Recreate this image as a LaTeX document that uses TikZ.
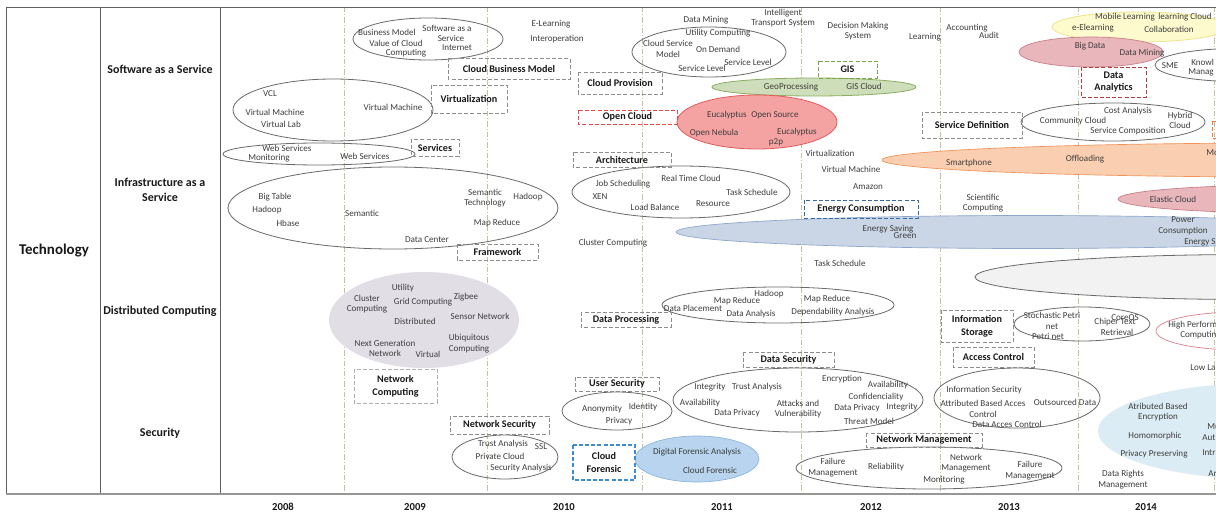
\documentclass[tikz,border=0pt]{standalone}
\usepackage{fontspec}
\setmainfont{Carlito}
\definecolor{txt}{RGB}{62,62,62}
\definecolor{hdtxt}{RGB}{25,25,25}
\definecolor{boxgray}{RGB}{140,140,140}
\definecolor{ovgray}{RGB}{105,105,105}
\definecolor{frame}{RGB}{95,95,95}
\definecolor{yrline}{RGB}{200,190,160}
\definecolor{redbx}{RGB}{232,72,72}
\definecolor{greenbx}{RGB}{120,165,70}
\definecolor{bluebx}{RGB}{55,105,165}
\definecolor{darkredbx}{RGB}{180,60,60}
\definecolor{forbx}{RGB}{60,140,210}
\definecolor{orangebx}{RGB}{237,125,49}
\definecolor{greenfill}{RGB}{206,222,186}
\definecolor{greenline}{RGB}{140,172,100}
\definecolor{redfill}{RGB}{244,162,162}
\definecolor{redline}{RGB}{228,90,90}
\definecolor{bandfill}{RGB}{202,214,230}
\definecolor{bandline}{RGB}{140,165,200}
\definecolor{orangefill}{RGB}{250,206,176}
\definecolor{orangeline}{RGB}{240,145,85}
\definecolor{pinkfill}{RGB}{232,182,187}
\definecolor{pinkline}{RGB}{200,125,135}
\definecolor{grayfill}{RGB}{242,242,242}
\definecolor{yellowfill}{RGB}{253,250,205}
\definecolor{yellowline}{RGB}{238,228,140}
\definecolor{lavfill}{RGB}{226,222,230}
\definecolor{forfill}{RGB}{184,212,238}
\definecolor{forline}{RGB}{140,180,220}
\definecolor{secfill}{RGB}{220,236,245}
\definecolor{hpline}{RGB}{222,140,150}
\begin{document}
\begin{tikzpicture}[x=0.75pt,y=-0.75pt,
  lbl/.style={font=\fontsize{6.8}{8}\selectfont, text=txt, inner sep=0pt, align=center},
  hd/.style={font=\bfseries\fontsize{7.6}{9.6}\selectfont, text=hdtxt, inner sep=0pt, align=center},
  rowlbl/.style={font=\bfseries\fontsize{9}{11}\selectfont, text=hdtxt, inner sep=0pt, align=center},
  yearlbl/.style={font=\bfseries\fontsize{8}{10}\selectfont, text=hdtxt, inner sep=0pt},
  tbox/.style={line width=0.7pt, dash pattern=on 3pt off 1.6pt},
  oval/.style={draw=ovgray, line width=0.6pt},
  yline/.style={draw=yrline, line width=0.6pt, dash pattern=on 4pt off 1.5pt on 0.8pt off 1.5pt}]
\useasboundingbox (0,0) rectangle (1216,517);
\clip (0,0) rectangle (1216,517);
\fill[white] (0,0) rectangle (1216,517);

% ---------- year separators ----------
\foreach \x in {344,487,642,801,940,1078,1214}
  \draw[yline] (\x,7) -- (\x,494);

% ---------- filled regions ----------
\filldraw[fill=bandfill, draw=bandline, line width=0.5pt] (1028,232) ellipse [x radius=352, y radius=16.5];
\filldraw[fill=orangefill, draw=orangeline, line width=0.5pt] (1290,160) ellipse [x radius=408, y radius=17];
\filldraw[fill=pinkfill, draw=pinkline, line width=0.5pt] (1290,199) ellipse [x radius=172, y radius=14];
\filldraw[fill=grayfill, draw=ovgray, line width=0.6pt] (1250,277) ellipse [x radius=275, y radius=22.5];
\filldraw[fill=yellowfill, draw=yellowline, line width=0.6pt] (1140,27) ellipse [x radius=88, y radius=15];
\filldraw[fill=pinkfill, draw=pinkline, line width=0.5pt] (1091,52) ellipse [x radius=72, y radius=15];
\filldraw[fill=greenfill, draw=greenline, line width=0.6pt] (814,87) ellipse [x radius=102, y radius=9];
\filldraw[fill=redfill, draw=redline, line width=0.6pt] (757,122) ellipse [x radius=80, y radius=27];
\fill[lavfill] (424,320) ellipse [x radius=95, y radius=48];
\filldraw[fill=forfill, draw=forline, line width=0.5pt] (697,459) ellipse [x radius=62, y radius=23];
\fill[secfill] (1262,431) ellipse [x radius=164, y radius=48];

% ---------- outlined groups ----------
\draw[oval] (428,39) ellipse [x radius=75, y radius=21];
\draw[oval] (333,110) ellipse [x radius=100, y radius=31];
\draw[oval] (319,154) ellipse [x radius=96, y radius=11];
\draw[oval] (393,208) ellipse [x radius=165, y radius=41];
\draw[oval] (709,52) ellipse [x radius=77, y radius=25];
\draw[oval] (681,192) ellipse [x radius=109, y radius=26];
\filldraw[fill=white, draw=ovgray, line width=0.6pt] (1237,65) ellipse [x radius=82, y radius=16.5];
\draw[oval] (1113,122) ellipse [x radius=92, y radius=19];
\draw[oval] (778,305) ellipse [x radius=116, y radius=18];
\draw[oval] (1082,324) ellipse [x radius=68, y radius=17];
\draw[draw=hpline, line width=0.6pt] (1240,331) ellipse [x radius=84, y radius=19];
\draw[oval] (617,411) ellipse [x radius=55, y radius=19];
\draw[oval] (505,457) ellipse [x radius=53, y radius=22];
\draw[oval] (798,400) ellipse [x radius=125, y radius=32];
\draw[oval] (929,468) ellipse [x radius=133, y radius=21];
\draw[oval] (1017,398) ellipse [x radius=83, y radius=30];

% ---------- frame ----------
\draw[frame, line width=0.7pt] (6,7) -- (1216,7);
\draw[frame, line width=0.7pt] (6,7) -- (6,494);
\draw[frame, line width=0.7pt] (100,7) -- (100,494);
\draw[frame, line width=0.7pt] (220,7) -- (220,494);
\draw[draw={rgb,255:red,150;green,150;blue,150}, line width=1.5pt] (6,494) -- (1216,494);

\node[rowlbl, font=\bfseries\fontsize{11.2}{13}\selectfont] (tech) at (54,251) {Technology};
\node[rowlbl] (saas) at (160,69) {Software as a Service};
\node[rowlbl] (iaas) at (160,190) {Infrastructure as a\\Service};
\node[rowlbl] (dc) at (160,311) {Distributed Computing};
\node[rowlbl] (sec) at (160,433) {Security};

\node[yearlbl] (y08) at (283,507) {2008};
\node[yearlbl] (y09) at (415,507) {2009};
\node[yearlbl] (y10) at (564,507) {2010};
\node[yearlbl] (y11) at (722,507) {2011};
\node[yearlbl] (y12) at (871,507) {2012};
\node[yearlbl] (y13) at (1009,507) {2013};
\node[yearlbl] (y14) at (1146,507) {2014};

% ---------- topic boxes ----------
\draw[tbox, draw=boxgray] (448,58) rectangle (570,79);
\node[hd] (bcbm) at (509,68.5) {Cloud Business Model};
\draw[tbox, draw=boxgray] (431,85) rectangle (507,113);
\node[hd] (bvirt) at (469,99) {Virtualization};
\draw[tbox, draw=boxgray] (411,139) rectangle (459,156);
\node[hd] (bserv) at (435,147.5) {Services};
\draw[tbox, draw=boxgray] (457,244) rectangle (538,260);
\node[hd] (bframe) at (497.5,252) {Framework};
\draw[tbox, draw=boxgray] (578,72) rectangle (662,94);
\node[hd] (bprov) at (620,83) {Cloud Provision};
\draw[tbox, draw=redbx] (578,110) rectangle (677,124);
\node[hd] (bopen) at (627.5,117) {Open Cloud};
\draw[tbox, draw=boxgray] (573,152) rectangle (671,167);
\node[hd] (barch) at (622,159.5) {Architecture};
\draw[tbox, draw=greenbx] (818,61) rectangle (877,78);
\node[hd] (bgis) at (847.5,69.5) {GIS};
\draw[tbox, draw=bluebx] (804,200) rectangle (918,218);
\node[hd] (benergy) at (861,209) {Energy Consumption};
\draw[tbox, draw=boxgray] (922,112) rectangle (1022,138);
\node[hd] (bsdef) at (972,125) {Service Definition};
\draw[tbox, draw=darkredbx] (1081,67) rectangle (1146,97);
\node[hd] (bdata) at (1113.5,82) {Data\\Analytics};
\draw[tbox, draw=orangebx] (1212,121) rectangle (1240,138);
\draw[tbox, draw=boxgray!70] (354,369) rectangle (437,403);
\node[hd] (bnetc) at (395.5,386) {Network\\Computing};
\draw[tbox, draw=boxgray] (581,312) rectangle (671,327);
\node[hd] (bproc) at (626,319.5) {Data Processing};
\draw[tbox, draw=boxgray] (941,310) rectangle (1013,342);
\node[hd] (bstore) at (977,326) {Information\\Storage};
\draw[tbox, draw=boxgray] (953,347) rectangle (1034,367);
\node[hd] (bacc) at (993.5,357) {Access Control};
\draw[tbox, draw=boxgray] (575,377) rectangle (659,391);
\node[hd] (buser) at (617,384) {User Security};
\draw[tbox, draw=boxgray] (450,416) rectangle (549,434);
\node[hd] (bnsec) at (499.5,425) {Network Security};
\draw[tbox, draw=forbx, line width=0.9pt] (573,445) rectangle (635,480);
\node[hd] (bfor) at (604,462.5) {Cloud\\Forensic};
\draw[tbox, draw=boxgray] (743,352) rectangle (834,367);
\node[hd] (bdsec) at (788.5,359.5) {Data Security};
\draw[tbox, draw=boxgray] (866,433) rectangle (982,447);
\node[hd] (bnman) at (924,440) {Network Management};

% ---------- Software as a Service ----------
\node[lbl] (a1) at (387,32) {Business Model};
\node[lbl] (a2) at (396,43) {Value of Cloud};
\node[lbl] (a3) at (406,53) {Computing};
\node[lbl] (a4) at (447,28) {Software as a};
\node[lbl] (a5) at (451,38) {Service};
\node[lbl] (a6) at (457,48) {Internet};
\node[lbl] (a7) at (551,24) {E-Learning};
\node[lbl] (a8) at (557,39) {Interoperation};
\node[lbl] (a9) at (270,94) {VCL};
\node[lbl] (a10) at (275,112) {Virtual Machine};
\node[lbl] (a11) at (281,124) {Virtual Lab};
\node[lbl] (a12) at (393,107) {Virtual Machine};
\node[lbl] (a13) at (287,148) {Web Services};
\node[lbl] (a14) at (269,158) {Monitoring};
\node[lbl] (a15) at (365,156) {Web Services};
\node[lbl] (a16) at (706,20) {Data Mining};
\node[lbl] (a17) at (718,33) {Utility Computing};
\node[lbl] (a18) at (668,49) {Cloud Service\\Model};
\node[lbl] (a19) at (718,49) {On Demand};
\node[lbl] (a20) at (702,68) {Service Level};
\node[lbl] (a21) at (748,62) {Service Level};
\node[lbl] (a22) at (783,18) {Intelligent\\Transport System};
\node[lbl] (a23) at (858,31) {Decision Making\\System};
\node[lbl] (a24) at (925,37) {Learning};
\node[lbl] (a25) at (967,28) {Accounting};
\node[lbl] (a26) at (989,35) {Audit};
\node[lbl] (a27) at (791,87) {GeoProcessing};
\node[lbl] (a28) at (864,86) {GIS Cloud};
\node[lbl] (a29) at (727,115) {Eucalyptus};
\node[lbl] (a30) at (775,115) {Open Source};
\node[lbl] (a31) at (714,133) {Open Nebula};
\node[lbl] (a32) at (797,132) {Eucalyptus};
\node[lbl] (a33) at (776,142) {p2p};
\node[lbl] (a34) at (1125,17) {Mobile Learning};
\node[lbl] (a35) at (1185,17) {learning Cloud};
\node[lbl] (a36) at (1093,28) {e-Elearning};
\node[lbl] (a37) at (1169,29) {Collaboration};
\node[lbl] (a38) at (1090,46) {Big Data};
\node[lbl] (a39) at (1142,53) {Data Mining};
\node[lbl] (a40) at (1170,66) {SME};
\node[lbl, anchor=west] (a41) at (1191,62) {Knowl};
\node[lbl, anchor=west] (a42) at (1188,72) {Manag};
\node[lbl] (a43) at (1073,121) {Community Cloud};
\node[lbl] (a44) at (1128,111) {Cost Analysis};
\node[lbl] (a45) at (1180,120.5) {Hybrid\\Cloud};
\node[lbl] (a46) at (1128,131) {Service Composition};

% ---------- Infrastructure as a Service ----------
\node[lbl] (b1) at (275,197) {Big Table};
\node[lbl] (b2) at (267,210) {Hadoop};
\node[lbl] (b3) at (288,223) {Hbase};
\node[lbl] (b4) at (362,213) {Semantic};
\node[lbl] (b5) at (427,240) {Data Center};
\node[lbl] (b6) at (485,198) {Semantic\\Technology};
\node[lbl] (b7) at (528,197) {Hadoop};
\node[lbl] (b8) at (497,223) {Map Reduce};
\node[lbl] (b9) at (613,243) {Cluster Computing};
\node[lbl] (b10) at (623,184) {Job Scheduling};
\node[lbl] (b11) at (600,197) {XEN};
\node[lbl] (b12) at (655,207) {Load Balance};
\node[lbl] (b13) at (691,178) {Real Time Cloud};
\node[lbl] (b14) at (713,204) {Resource};
\node[lbl] (b15) at (752,192) {Task Schedule};
\node[lbl] (b16) at (830,153) {Virtualization};
\node[lbl] (b17) at (851,169) {Virtual Machine};
\node[lbl] (b18) at (868,187) {Amazon};
\node[lbl] (b19) at (888,229) {Energy Saving};
\node[lbl] (b20) at (905,236) {Green};
\node[lbl] (b21) at (1183,225.5) {Power\\Consumption};
\node[lbl, anchor=west] (b22) at (1184,242) {Energy S};
\node[lbl] (b23) at (840,263) {Task Schedule};
\node[lbl] (b24) at (969,163) {Smartphone};
\node[lbl] (b25) at (1085,159) {Offloading};
\node[lbl, anchor=west] (b26) at (1206,153) {Mo};
\node[lbl] (b27) at (983,203) {Scientific\\Computing};
\node[lbl] (b28) at (1173,199) {Elastic Cloud};

% ---------- Distributed Computing ----------
\node[lbl] (c1) at (403,288) {Utility};
\node[lbl] (c2) at (367,304) {Cluster\\Computing};
\node[lbl] (c3) at (423,302) {Grid Computing};
\node[lbl] (c4) at (415,321) {Distributed};
\node[lbl] (c5) at (466,297) {Zigbee};
\node[lbl] (c6) at (480,316) {Sensor Network};
\node[lbl] (c7) at (385,348.5) {Next Generation\\Network};
\node[lbl] (c8) at (428,354) {Virtual};
\node[lbl] (c9) at (469,343.5) {Ubiquitous\\Computing};
\node[lbl] (c10) at (769,294) {Hadoop};
\node[lbl] (c11) at (737,301) {Map Reduce};
\node[lbl] (c12) at (693,308) {Data Placement};
\node[lbl] (c13) at (751,314) {Data Analysis};
\node[lbl] (c14) at (827,299) {Map Reduce};
\node[lbl] (c15) at (833,312) {Dependability Analysis};
\node[lbl] (c16) at (1052,321) {Stochastic Petri\\net};
\node[lbl] (c17) at (1048,336) {Petri net};
\node[lbl] (c18) at (1125,318) {CoreOS};
\node[lbl] (c19) at (1115,322) {Chiper Text};
\node[lbl] (c20) at (1117,332) {Retrieval};
\node[lbl, anchor=west] (c21) at (1168,325) {High Perform};
\node[lbl, anchor=west] (c22) at (1180,335) {Computin};
\node[lbl, anchor=west] (c23) at (1190,368) {Low La};

% ---------- Security ----------
\node[lbl] (d1) at (602,409) {Anonymity};
\node[lbl] (d2) at (643,407) {Identity};
\node[lbl] (d3) at (619,421) {Privacy};
\node[lbl] (d4) at (503,444) {Trust Analysis};
\node[lbl] (d5) at (541,447) {SSL};
\node[lbl] (d6) at (500,456) {Private Cloud};
\node[lbl] (d7) at (521,468) {Security Analysis};
\node[lbl] (d8) at (697,452) {Digital Forensic Analysis};
\node[lbl] (d9) at (710,470) {Cloud Forensic};
\node[lbl] (d10) at (710,387) {Integrity};
\node[lbl] (d11) at (757,387) {Trust Analysis};
\node[lbl] (d12) at (700,403) {Availability};
\node[lbl] (d13) at (737,413) {Data Privacy};
\node[lbl] (d14) at (798,409) {Attacks and\\Vulnerability};
\node[lbl] (d15) at (842,379) {Encryption};
\node[lbl] (d16) at (888,385) {Availability};
\node[lbl] (d17) at (876,397) {Confidenciality};
\node[lbl] (d18) at (857,408) {Data Privacy};
\node[lbl] (d19) at (902,407) {Integrity};
\node[lbl] (d20) at (869,421) {Threat Model};
\node[lbl] (d21) at (833,467.5) {Failure\\Management};
\node[lbl] (d22) at (886,467) {Reliability};
\node[lbl] (d23) at (966,463) {Network\\Management};
\node[lbl] (d24) at (944,480) {Monitoring};
\node[lbl] (d25) at (1030,470.5) {Failure\\Management};
\node[lbl] (d26) at (984,390) {Information Security};
\node[lbl] (d27) at (983,409) {Attributed Based Acces\\Control};
\node[lbl] (d28) at (1007,424) {Data Acces Control};
\node[lbl] (d29) at (1065,402) {Outsourced Data};
\node[lbl] (d30) at (1158,412) {Atributed Based\\Encryption};
\node[lbl] (d31) at (1155,436) {Homomorphic};
\node[lbl] (d32) at (1154,454) {Privacy Preserving};
\node[lbl] (d33) at (1123,479.5) {Data Rights\\Management};
\node[lbl, anchor=west] (d34) at (1207,427) {Mu};
\node[lbl, anchor=west] (d35) at (1202,438) {Aut};
\node[lbl, anchor=west] (d36) at (1202,453) {Intr};
\node[lbl, anchor=west] (d37) at (1208,474) {Ar};
\end{tikzpicture}
\end{document}
